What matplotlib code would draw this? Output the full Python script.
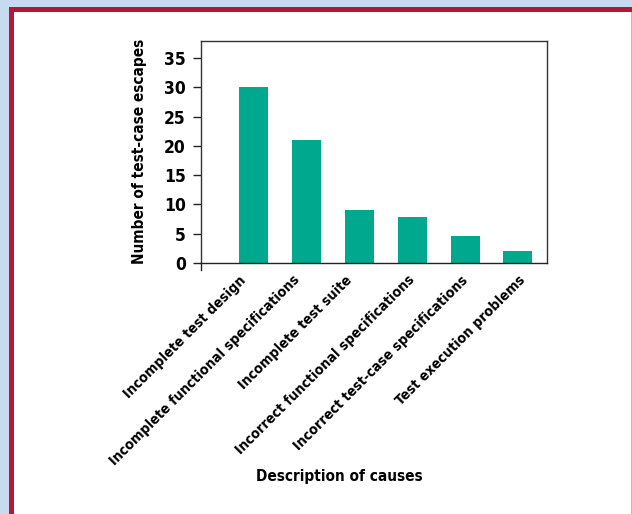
import matplotlib
matplotlib.use("Agg")
import matplotlib.pyplot as plt
import matplotlib.transforms as mtransforms
from matplotlib.patches import Rectangle
from matplotlib.lines import Line2D

categories = [
    "Incomplete test design",
    "Incomplete functional specifications",
    "Incomplete test suite",
    "Incorrect functional specifications",
    "Incorrect test-case specifications",
    "Test execution problems",
]
values = [30, 21, 9, 7.9, 4.6, 2]
yticks = [0, 5, 10, 15, 20, 25, 30, 35]

# per-label horizontal nudge (pixels) as in the original hand-placed labels
label_dx = [-14.5, -14.5, -14.5, -4.5, -4.5, 0.5]

W, H = 632, 514
plt.rcParams['font.family'] = ['DejaVu Sans']
plt.rcParams['font.stretch'] = 'condensed'
plt.rcParams['font.weight'] = 'bold'

fig = plt.figure(figsize=(W / 100, H / 100), dpi=100)
fig.patch.set_facecolor('white')

def px_rect(x0, y0, x1, y1, color):
    fig.add_artist(Rectangle((x0 / W, 1 - y1 / H), (x1 - x0) / W, (y1 - y0) / H,
                             transform=fig.transFigure, facecolor=color,
                             edgecolor='none', zorder=-10))

blue = '#c6dbf0'
red = '#b3183a'
px_rect(0, 0, W, 7, blue)
px_rect(0, 0, 8.5, H, blue)
px_rect(8.5, 7, W, 12, red)
px_rect(8.5, 7, 14, H, red)
px_rect(630.5, 12, 632, H, '#e8a8b8')

ax_l, ax_r, ax_t, ax_b = 201, 547, 41, 263
ax = fig.add_axes([ax_l / W, 1 - ax_b / H, (ax_r - ax_l) / W, (ax_b - ax_t) / H])

x = list(range(len(categories)))
ax.bar(x, values, width=0.55, color='#00a88e', zorder=2)
ax.set_xlim(-1.0, 5.55)
ax.set_ylim(0, 37.9)
ax.set_yticks(yticks)
ax.set_yticklabels([str(v) for v in yticks], fontsize=12.5, fontweight='bold')
ax.set_xticks(x)
ax.set_xticklabels([])
ax.tick_params(axis='x', length=0)
ax.tick_params(axis='y', length=6, width=1, color='#222222', pad=5)

for xi, cat, dx in zip(x, categories, label_dx):
    off = mtransforms.ScaledTranslation(dx / 100, -10 / 100, fig.dpi_scale_trans)
    ax.text(xi, 0, cat, transform=ax.get_xaxis_transform() + off,
            rotation=45, rotation_mode='anchor', ha='right', va='top',
            fontsize=10.3, fontweight='bold')

for s in ax.spines.values():
    s.set_color('#333333')
    s.set_linewidth(1.0)
ax.spines['bottom'].set_color('#222222')
ax.add_line(Line2D([0, 0], [0, -0.03], transform=ax.transAxes, color='#222222',
                   lw=1.0, clip_on=False))

ax.set_ylabel("Number of test-case escapes", fontsize=11, fontweight='bold')
ax.yaxis.set_label_coords((140 - ax_l) / (ax_r - ax_l), (263 - 151.5) / (263 - 41))
ax.yaxis.label.set_va('center')
fig.text(339 / W, 1 - 477 / H, "Description of causes", ha='center', va='center',
         fontsize=11, fontweight='bold')

fig.savefig("out.png", dpi=100)
